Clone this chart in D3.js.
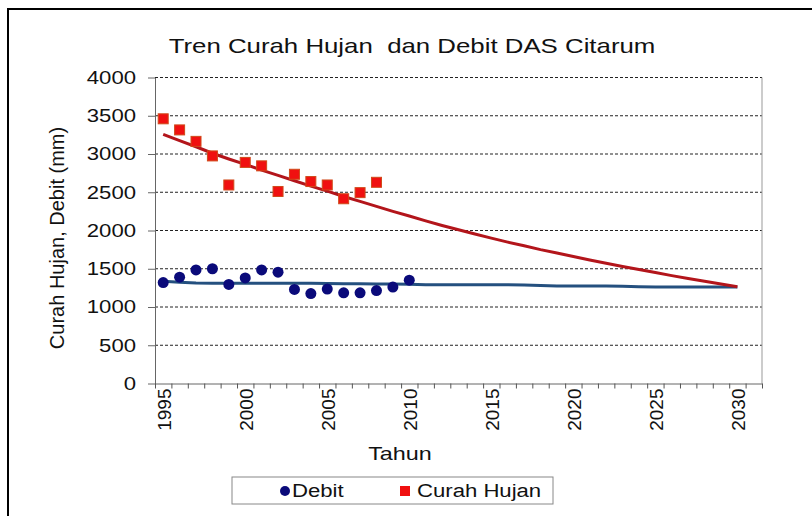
<!DOCTYPE html>
<html>
<head>
<meta charset="utf-8">
<script src="https://cdn.jsdelivr.net/npm/d3@7"></script>
<style>
  body { margin: 0; background: #fff; }
  svg text { font-family: "Liberation Sans", Arial, sans-serif; fill: #111; }
</style>
</head>
<body>
<div id="chart"></div>
<script>
// data
var obsYears = [1995, 1996, 1997, 1998, 1999, 2000, 2001, 2002, 2003, 2004, 2005, 2006, 2007, 2008, 2009, 2010];
var debit = [1320, 1390, 1485, 1500, 1295, 1380, 1485, 1455, 1230, 1175, 1235, 1185, 1185, 1215, 1260, 1350];
var curahHujan = [3460, 3315, 3165, 2975, 2595, 2890, 2845, 2510, 2735, 2640, 2595, 2415, 2495, 2630];

var trendYears = [1995, 1996, 1997, 1998, 1999, 2000, 2001, 2002, 2003, 2004, 2005, 2006,
  2007, 2008, 2009, 2010, 2011, 2012, 2013, 2014, 2015, 2016, 2017, 2018,
  2019, 2020, 2021, 2022, 2023, 2024, 2025, 2026, 2027, 2028, 2029, 2030];
var trendHujan = [3257, 3175, 3095, 3010, 2935, 2865, 2790, 2720, 2650, 2580, 2515, 2445,
  2380, 2315, 2250, 2190, 2125, 2065, 2010, 1955, 1900, 1848, 1800, 1750,
  1705, 1660, 1615, 1572, 1530, 1490, 1450, 1410, 1372, 1336, 1300, 1265];
var trendDebit = [1335, 1325, 1315, 1312, 1310, 1310, 1310, 1310, 1310, 1310, 1308, 1305,
  1303, 1300, 1300, 1298, 1292, 1290, 1290, 1290, 1290, 1290, 1288, 1280,
  1275, 1275, 1275, 1275, 1272, 1265, 1262, 1262, 1262, 1262, 1262, 1262];

var yTicks = [0, 500, 1000, 1500, 2000, 2500, 3000, 3500, 4000];
var xLabels = [1995, 2000, 2005, 2010, 2015, 2020, 2025, 2030];

// layout
var svgWidth = 812, svgHeight = 516;
var plot = { left: 155, right: 762, top: 77.5, bottom: 383.5 };
var sx = 1.23; // picture is stretched sideways

var svg = d3.select("#chart").append("svg")
    .attr("width", svgWidth)
    .attr("height", svgHeight);

// outer frame
svg.append("rect")
    .attr("x", 8).attr("y", 9)
    .attr("width", 840).attr("height", 560)
    .attr("fill", "none")
    .attr("stroke", "#000")
    .attr("stroke-width", 2);

// helper: widen text horizontally around its anchor point
function wide(sel, x, y) {
  sel.attr("transform", "translate(" + x + "," + y + ") scale(" + sx + ",1)");
}

// scales: one category per year, 1995..2031
var x = d3.scaleLinear().domain([1994.5, 2031.5]).range([plot.left, plot.right]);
var y = d3.scaleLinear().domain([0, 4000]).range([plot.bottom, plot.top]);

// gridlines
svg.append("g").selectAll("line")
    .data(yTicks.filter(function(d) { return d > 0; }))
    .enter().append("line")
    .attr("x1", plot.left).attr("x2", plot.right)
    .attr("y1", function(d) { return y(d); })
    .attr("y2", function(d) { return y(d); })
    .attr("stroke", "#222")
    .attr("stroke-width", 1)
    .attr("stroke-dasharray", "3,2");

svg.append("line")
    .attr("x1", plot.right).attr("x2", plot.right)
    .attr("y1", plot.top).attr("y2", plot.bottom)
    .attr("stroke", "#999");

// y axis
var yAxis = svg.append("g")
    .attr("transform", "translate(" + plot.left + ",0)")
    .call(d3.axisLeft(y).tickValues(yTicks).tickFormat(d3.format("d"))
      .tickSizeInner(7).tickSizeOuter(0).tickPadding(12));
yAxis.select(".domain").attr("stroke", "#666");
yAxis.selectAll(".tick line").attr("stroke", "#666");
yAxis.selectAll(".tick text")
    .attr("font-size", 18)
    .attr("x", -19 / sx)
    .attr("transform", "scale(" + sx + ",1)");

// x axis: tick marks between categories
var xTickAxis = svg.append("g")
    .attr("transform", "translate(0," + plot.bottom + ")")
    .call(d3.axisBottom(x).tickValues(d3.range(1994.5, 2032, 1)).tickFormat("").tickSizeInner(5).tickSizeOuter(0));
xTickAxis.select(".domain").attr("stroke", "#666");
xTickAxis.selectAll(".tick line").attr("stroke", "#555");

// x axis labels, centred in category, rotated
var xLabAxis = svg.append("g")
    .attr("transform", "translate(0," + plot.bottom + ")")
    .call(d3.axisBottom(x).tickValues(xLabels).tickFormat(d3.format("d")).tickSize(0));
xLabAxis.select(".domain").remove();
xLabAxis.selectAll(".tick text")
    .attr("font-size", 19)
    .attr("transform", "rotate(-90)")
    .attr("text-anchor", "end")
    .attr("x", -5)
    .attr("y", 0)
    .attr("dy", "0.36em");

// trend lines
var line = d3.line()
    .x(function(d) { return x(d[0]); })
    .y(function(d) { return y(d[1]); });

svg.append("path")
    .datum(trendYears.map(function(yr, i) { return [yr, trendDebit[i]]; }))
    .attr("d", line)
    .attr("fill", "none")
    .attr("stroke", "#24507f")
    .attr("stroke-width", 3);

svg.append("path")
    .datum(trendYears.map(function(yr, i) { return [yr, trendHujan[i]]; }))
    .attr("d", line)
    .attr("fill", "none")
    .attr("stroke", "#b3151b")
    .attr("stroke-width", 3);

// observed points
svg.append("g").selectAll("circle")
    .data(debit)
    .enter().append("circle")
    .attr("cx", function(d, i) { return x(obsYears[i]); })
    .attr("cy", function(d) { return y(d); })
    .attr("r", 5.5)
    .attr("fill", "#0a0a7a");

svg.append("g").selectAll("rect")
    .data(curahHujan)
    .enter().append("rect")
    .attr("x", function(d, i) { return x(obsYears[i]) - 5; })
    .attr("y", function(d) { return y(d) - 5; })
    .attr("width", 10).attr("height", 10)
    .attr("fill", "#f01010")
    .attr("stroke", "#d04a1a")
    .attr("stroke-width", 1);

// title
svg.append("text")
    .attr("font-size", 21)
    .attr("text-anchor", "middle")
    .attr("xml:space", "preserve")
    .style("white-space", "pre")
    .text("Tren Curah Hujan  dan Debit DAS Citarum")
    .call(wide, 412, 53);

// axis titles
svg.append("text")
    .attr("font-size", 20)
    .attr("text-anchor", "middle")
    .attr("transform", "translate(64,238) rotate(-90)")
    .text("Curah Hujan, Debit (mm)");

svg.append("text")
    .attr("font-size", 19)
    .attr("text-anchor", "middle")
    .text("Tahun")
    .call(wide, 400, 460);

// legend
var legend = svg.append("g");
legend.append("rect")
    .attr("x", 232).attr("y", 477)
    .attr("width", 321).attr("height", 27)
    .attr("fill", "#fff")
    .attr("stroke", "#888");
legend.append("circle")
    .attr("cx", 285).attr("cy", 491).attr("r", 5)
    .attr("fill", "#0a0a7a");
legend.append("text")
    .attr("font-size", 18)
    .text("Debit")
    .call(wide, 292, 497);
legend.append("rect")
    .attr("x", 400).attr("y", 486)
    .attr("width", 10).attr("height", 10)
    .attr("fill", "#f01010");
legend.append("text")
    .attr("font-size", 18)
    .text("Curah Hujan")
    .call(wide, 417, 497);
</script>
</body>
</html>
